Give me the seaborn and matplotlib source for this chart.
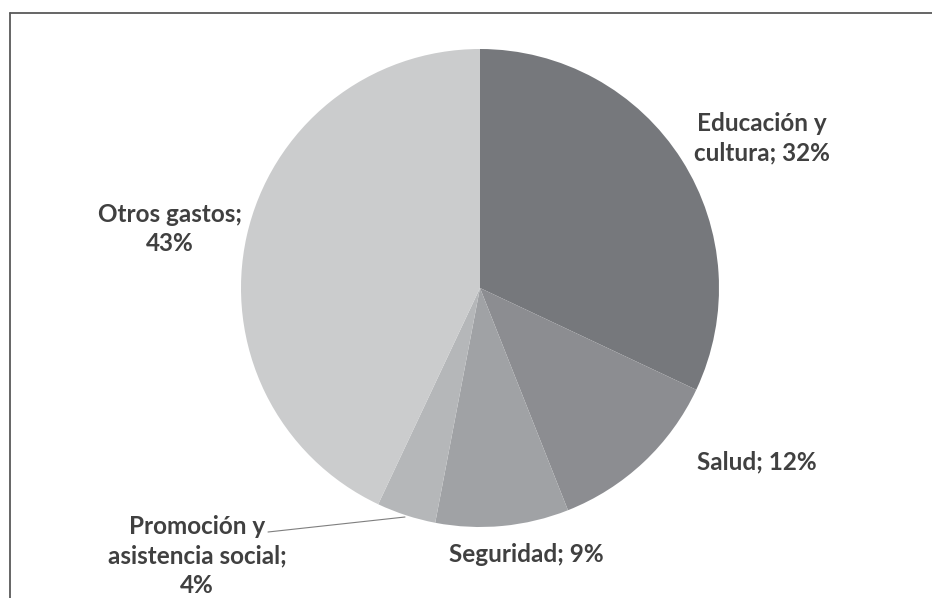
import matplotlib
matplotlib.use("Agg")
import matplotlib.pyplot as plt
import seaborn as sns
from matplotlib.lines import Line2D

categories = ["Educación y\ncultura", "Salud", "Seguridad",
              "Promoción y\nasistencia social", "Otros gastos"]
values = [32, 12, 9, 4, 43]
label_texts = ["Educación y\ncultura; 32%", "Salud; 12%", "Seguridad; 9%",
               "Promoción y\nasistencia social;\n4%", "Otros gastos;\n43%"]
colors = ["#76787c", "#8c8d91", "#a0a2a5", "#b5b7b9", "#cbcccd"]

sns.set_theme(style="white")
plt.rcParams['font.family'] = ['Lato', 'DejaVu Sans']

W, H = 932, 598
cx, cy, R = 480, 288, 239
fig = plt.figure(figsize=(W / 100, H / 100), dpi=100)
ax = fig.add_axes([0, 0, 1, 1])

ax.pie(values, colors=colors, startangle=90, counterclock=False,
       radius=1, center=(0, 0), wedgeprops=dict(linewidth=0))

ax.set_xlim(-cx / R, (W - cx) / R)
ax.set_ylim((cy - H) / R, cy / R)
ax.set_aspect("equal")
ax.axis("off")


def px(x, y):
    return ((x - cx) / R, (cy - y) / R)


label_pos = [(762, 138), (757, 462), (526, 555), (197, 556), (170, 229)]
for txt, (x, y) in zip(label_texts, label_pos):
    ax.text(*px(x, y), txt, ha="center", va="center", fontsize=17.5,
            fontweight="bold", color="#404040", linespacing=1.33)

# leader line for small slice
ax.add_line(Line2D([px(268, 532)[0], px(405, 517)[0]],
                   [px(268, 532)[1], px(405, 517)[1]],
                   color="#7f7f7f", linewidth=0.8))

# frame lines (top and left)
fig.add_artist(Line2D([10 / W, 1], [1 - 13 / H, 1 - 13 / H], transform=fig.transFigure,
                      color="#595959", linewidth=1.3))
fig.add_artist(Line2D([10 / W, 10 / W], [1 - 13 / H, 0], transform=fig.transFigure,
                      color="#595959", linewidth=1.3))

fig.savefig("out.png", dpi=100)
